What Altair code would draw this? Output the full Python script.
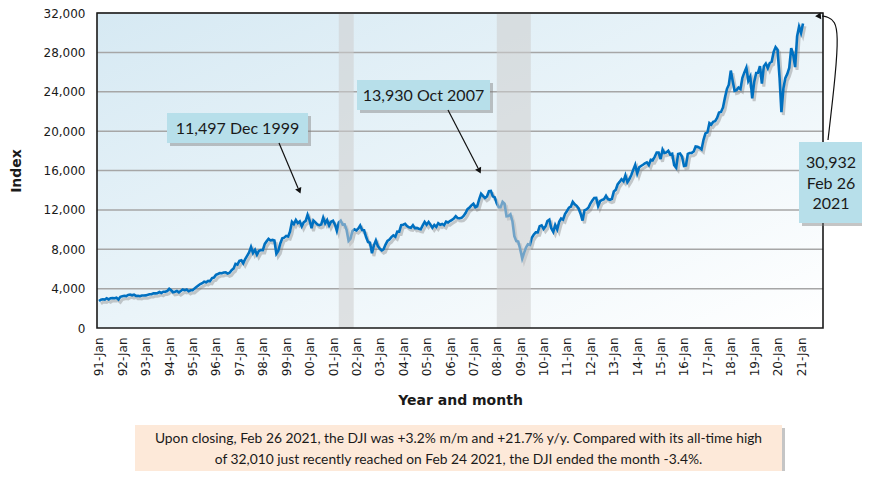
import altair as alt
import pandas as pd

# ---------------- data ----------------
years = list(range(1991, 2022))
monthly_close = [
    [2736, 2882, 2914, 2888, 3028, 2907, 3025, 3044, 3017, 3069, 2895, 3169],   # 1991
    [3224, 3267, 3236, 3359, 3397, 3319, 3394, 3257, 3272, 3226, 3305, 3301],   # 1992
    [3310, 3370, 3435, 3428, 3527, 3516, 3540, 3651, 3555, 3681, 3684, 3754],   # 1993
    [3978, 3832, 3636, 3682, 3758, 3625, 3765, 3913, 3843, 3908, 3739, 3834],   # 1994
    [3844, 4011, 4158, 4321, 4465, 4556, 4709, 4648, 4789, 4756, 5075, 5117],   # 1995
    [5395, 5486, 5588, 5569, 5644, 5655, 5529, 5616, 5882, 6029, 6522, 6448],   # 1996
    [6813, 6878, 6584, 7009, 7331, 7673, 8223, 7622, 7945, 7442, 7823, 7908],   # 1997
    [7907, 8546, 8800, 9063, 8900, 8952, 8883, 7539, 7843, 8592, 9117, 9181],   # 1998
    [9359, 9307, 9786, 10789, 10560, 10971, 10655, 10829, 10337, 10730, 10878, 11497],  # 1999
    [10941, 10128, 10922, 10734, 10522, 10448, 10522, 11215, 10651, 10971, 10415, 10787],  # 2000
    [10887, 10495, 9879, 10735, 10912, 10502, 10523, 9950, 8848, 9075, 9852, 10022],  # 2001
    [9920, 10106, 10404, 9946, 9925, 9243, 8737, 8664, 7592, 8397, 8896, 8342],  # 2002
    [8054, 7891, 7992, 8480, 8850, 8985, 9234, 9416, 9275, 9801, 9782, 10454],  # 2003
    [10488, 10584, 10358, 10226, 10188, 10435, 10140, 10174, 10080, 10027, 10428, 10783],  # 2004
    [10490, 10766, 10504, 10193, 10467, 10275, 10641, 10482, 10569, 10440, 10806, 10718],  # 2005
    [10865, 10993, 11109, 11367, 11168, 11150, 11186, 11381, 11679, 12081, 12222, 12463],  # 2006
    [12622, 12269, 12354, 13063, 13628, 13409, 13212, 13358, 13896, 13930, 13372, 13265],  # 2007
    [12650, 12266, 12263, 12820, 12638, 11350, 11378, 11544, 10851, 9325, 8829, 8776],  # 2008
    [8001, 7063, 7609, 8168, 8500, 8447, 9172, 9496, 9712, 9713, 10345, 10428],  # 2009
    [10067, 10325, 10857, 11009, 10137, 9774, 10466, 10015, 10788, 11118, 11006, 11578],  # 2010
    [11892, 12226, 12320, 12811, 12570, 12414, 12143, 11614, 10913, 11955, 12046, 12218],  # 2011
    [12633, 12952, 13212, 13214, 12393, 12880, 13009, 13091, 13437, 13096, 13026, 13104],  # 2012
    [13861, 14054, 14579, 14840, 15116, 14910, 15500, 14810, 15130, 15546, 16086, 16577],  # 2013
    [15699, 16322, 16458, 16581, 16717, 16827, 16563, 17098, 17043, 17391, 17828, 17823],  # 2014
    [17165, 18133, 17776, 17841, 18011, 17620, 17690, 16528, 16285, 17664, 17720, 17425],  # 2015
    [16466, 16517, 17685, 17774, 17787, 17930, 18432, 18401, 18308, 18142, 19124, 19763],  # 2016
    [19864, 20812, 20663, 20941, 21009, 21350, 21891, 21948, 22405, 23377, 24272, 24719],  # 2017
    [26149, 25029, 24103, 24163, 24416, 24271, 25415, 25965, 26458, 25116, 25538, 23327],  # 2018
    [24999, 25916, 25929, 26593, 24815, 26600, 26864, 26403, 26917, 27046, 28051, 28538],  # 2019
    [28256, 25409, 21917, 24346, 25383, 25813, 26428, 28430, 27782, 26502, 29639, 30606],  # 2020
    [29983, 30932],  # 2021
]
recession_start = ["2001-04-01", "2008-01-01"]
recession_end = ["2001-11-20", "2009-06-15"]
y_ticks = [0, 4000, 8000, 12000, 16000, 20000, 24000, 28000, 32000]

rows = []
for yr, vals in zip(years, monthly_close):
    for m, v in enumerate(vals):
        rows.append({"date": pd.Timestamp(year=yr, month=m + 1, day=1), "close": v})
df = pd.DataFrame(rows)
df["sdate"] = df["date"] + pd.Timedelta(days=30)
df["sclose"] = df["close"] - 280

rec = pd.DataFrame({"start": pd.to_datetime(recession_start), "end": pd.to_datetime(recession_end)})
grid = pd.DataFrame({"v": y_ticks[1:]})

W, H = 726, 315
one = pd.DataFrame({"a": [0]})

x_dom = [alt.DateTime(year=1990, month=12, date=1), alt.DateTime(year=2021, month=12, date=10)]
x_vals = [alt.DateTime(year=y, month=1, date=1) for y in years]
x_scale = alt.Scale(domain=x_dom)
y_scale = alt.Scale(domain=[0, 32000], nice=False)

AX_FONT = "DejaVu Sans"
ANN_FONT = "Lato"

x_axis = alt.Axis(values=x_vals, format="%y-%b", labelAngle=270, labelAlign="right",
                  labelBaseline="middle", ticks=False, domain=False, grid=False,
                  labelFont=AX_FONT, labelFontSize=12, labelColor="#1a1a1a",
                  labelPadding=9, title="Year and month", titleFont=AX_FONT,
                  titleFontSize=14, titleFontWeight="bold", titleColor="#1a1a1a",
                  titlePadding=18, labelOverlap=False)
y_axis = alt.Axis(values=y_ticks, format=",d", ticks=False, domain=False, grid=False,
                  labelFont=AX_FONT, labelFontSize=12, labelColor="#1a1a1a",
                  labelPadding=12, title="Index", titleFont=AX_FONT, titleFontSize=14,
                  titleFontWeight="bold", titleColor="#1a1a1a", titlePadding=20)

bg = alt.Chart(one).mark_rect(
    fill=alt.LinearGradient(
        gradient="linear", x1=0, y1=0, x2=1, y2=1,
        stops=[alt.GradientStop(color="#d6e9f3", offset=0),
               alt.GradientStop(color="#eaf4f9", offset=0.5),
               alt.GradientStop(color="#ffffff", offset=1)],
    )
).encode(x=alt.value(0), x2=alt.value(W), y=alt.value(0), y2=alt.value(H))

grid_rules = alt.Chart(grid).mark_rule(color="#a6a6a6", strokeWidth=1.5).encode(
    y=alt.Y("v:Q", scale=y_scale, axis=y_axis)
)

shadow = alt.Chart(df).mark_line(color="#808080", strokeWidth=3, opacity=0.4).encode(
    x=alt.X("sdate:T", scale=x_scale, axis=x_axis),
    y=alt.Y("sclose:Q", scale=y_scale, axis=y_axis),
)

line = alt.Chart(df).mark_line(color="#0070c0", strokeWidth=2.6).encode(
    x=alt.X("date:T", scale=x_scale, axis=x_axis),
    y=alt.Y("close:Q", scale=y_scale, axis=y_axis),
)

bands = alt.Chart(rec).mark_rect(color="#cdcdcd", opacity=0.55).encode(
    x=alt.X("start:T", scale=x_scale, axis=x_axis), x2="end:T",
    y=alt.value(0), y2=alt.value(H)
)

border = alt.Chart(one).mark_rect(fillOpacity=0, stroke="#1a1a1a", strokeWidth=1.6).encode(
    x=alt.value(0), x2=alt.value(W), y=alt.value(0), y2=alt.value(H)
)


def box(x0, x1, y0, y1, fill):
    sh = alt.Chart(one).mark_rect(color="#7f7f7f", opacity=0.45).encode(
        x=alt.value(x0 + 3), x2=alt.value(x1 + 3), y=alt.value(y0 + 3), y2=alt.value(y1 + 3))
    bx = alt.Chart(one).mark_rect(color=fill).encode(
        x=alt.value(x0), x2=alt.value(x1), y=alt.value(y0), y2=alt.value(y1))
    return [sh, bx]


def label(txt, x, y, size=16, lh=None):
    kw = {}
    if lh is not None:
        kw["lineHeight"] = lh
    return alt.Chart(one).mark_text(text=txt, font=ANN_FONT, fontSize=size, color="#1a1a1a",
                                    align="center", baseline="middle", **kw).encode(
        x=alt.value(x), y=alt.value(y))


def arrow(x0, y0, x1, y1):
    return alt.Chart(one).mark_rule(color="#111111", strokeWidth=1.2).encode(
        x=alt.value(x0), y=alt.value(y0), x2=alt.value(x1), y2=alt.value(y1))


def head(x, y, ang):
    return alt.Chart(one).mark_point(shape="triangle", filled=True, color="#111111", opacity=1,
                                     size=45, angle=ang).encode(x=alt.value(x), y=alt.value(y))


ann = []
ann += box(70, 211, 100, 130, "#b7dfea")
ann.append(label("11,497 Dec 1999", 140.5, 115.5))
ann.append(arrow(182, 130, 201, 175))
ann.append(head(202, 177, 157))

ann += box(260, 393, 67, 97, "#b7dfea")
ann.append(label("13,930 Oct 2007", 326.5, 82.5))
ann.append(arrow(351, 97, 381, 155))
ann.append(head(382, 157, 153))

ann += box(702, 766, 129, 210, "#b7dfea")
ann.append(label(["30,932", "Feb 26", "2021"], 734, 150, size=16, lh=20.5))

curve = pd.DataFrame({
    "i": [0, 1, 2, 3, 4, 5],
    "px": [731, 739, 741, 738, 731, 725],
    "py": [127, 58, 22, 8, 4, 3],
})
ann.append(alt.Chart(curve).mark_line(color="#111111", strokeWidth=1.2, interpolate="basis").encode(
    x=alt.X("px:Q", scale=None), y=alt.Y("py:Q", scale=None), order="i:Q"))
ann.append(head(722, 3, 265))

ann += box(38, 685, 412, 459, "#fde9d9")
ann.append(label(["Upon closing, Feb 26 2021, the DJI was +3.2% m/m and +21.7% y/y. Compared with its all-time high",
                  "of 32,010 just recently reached on Feb 24 2021, the DJI ended the month -3.4%."],
                 361.5, 426, size=13.8, lh=21))

chart = alt.layer(bg, grid_rules, shadow, line, bands, border, *ann).properties(
    width=W, height=H,
    autosize=alt.AutoSizeParams(type="none"),
    padding={"left": 89, "top": 5, "right": 39, "bottom": 143},
).configure_view(stroke=None)

chart.save("out.html", embed_options={"renderer": "svg", "actions": False})
